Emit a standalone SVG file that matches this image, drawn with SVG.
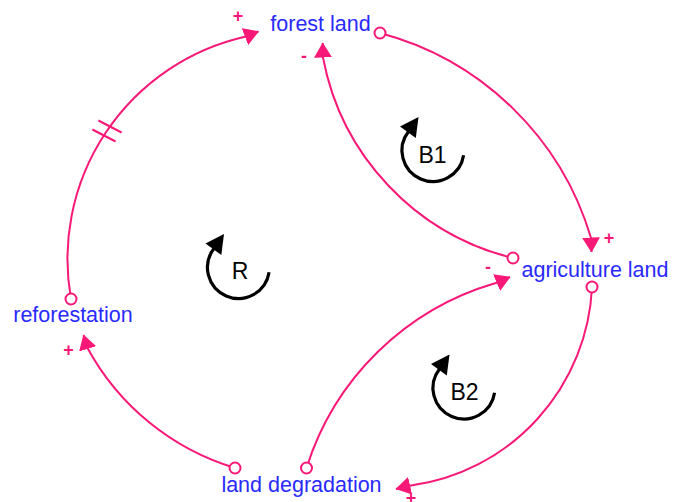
<svg xmlns="http://www.w3.org/2000/svg" width="673" height="502" viewBox="0 0 673 502">
<style>
.node{font-family:"Liberation Sans",Arial,sans-serif;font-size:21.5px;fill:#2a2aff;text-anchor:middle;}
.link{fill:none;stroke:#f81877;stroke-width:2;marker-end:url(#ah);}
.tail{fill:#fff;stroke:#f81877;stroke-width:2;}
.pol{font-family:"Liberation Sans",Arial,sans-serif;font-size:18px;font-weight:bold;fill:#f81877;text-anchor:middle;}
.delay{stroke:#f81877;stroke-width:2;}
.looplabel{font-family:"Liberation Sans",Arial,sans-serif;font-size:23px;fill:#000;text-anchor:middle;}
</style>
<defs>
<marker id="ah" markerUnits="userSpaceOnUse" viewBox="0 0 15 18" refX="14.5" refY="9" markerWidth="15" markerHeight="18" orient="auto"><path d="M0,0 L15,9 L0,18 Z" fill="#f81877"/></marker>
<g id="loopicon"><path d="M30.6,4.85 A31,31 0 1,1 -24.5,-19" fill="none" stroke="#000" stroke-width="3.2"/><polygon points="-14.5,-33.5 -33,-24 -17.2,-12.4" fill="#000"/></g>
</defs>
<rect width="673" height="502" fill="#fff"/>
<g id="connectors">
<path class="link" d="M380,33 A300,300 0 0,1 591,238 L591.5,252"/>
<path class="link" d="M513,258 A255,255 0 0,1 323,57.5 L322.7,43"/>
<path class="link" d="M592,287 A210,210 0 0,1 411,485.5 L396,489"/>
<path class="link" d="M306.5,468 A280,280 0 0,1 495,283.3 L510,277"/>
<path class="link" d="M235,468 A250,250 0 0,1 87.5,348 L83.5,335"/>
<path class="link" d="M71,299 A228,228 0 0,1 245,36.7 L258.5,31.5"/>
<line class="delay" x1="98.4" y1="120.5" x2="121.6" y2="132.5"/>
<line class="delay" x1="92.4" y1="129.5" x2="115.6" y2="141.5"/>
<circle class="tail" cx="380" cy="33" r="5.5"/>
<circle class="tail" cx="513" cy="258" r="5.5"/>
<circle class="tail" cx="592" cy="287" r="5.5"/>
<circle class="tail" cx="306.5" cy="468" r="5.5"/>
<circle class="tail" cx="235" cy="468" r="5.5"/>
<circle class="tail" cx="71" cy="299" r="5.5"/>
<text class="pol" x="238" y="22">+</text>
<text class="pol" x="304" y="62">-</text>
<text class="pol" x="609" y="244">+</text>
<text class="pol" x="488" y="273">-</text>
<text class="pol" x="68.5" y="356">+</text>
<text class="pol" x="411" y="504">+</text>
</g>
<g id="forest_land"><text class="node" x="320.5" y="31">forest land</text></g>
<g id="agriculture_land"><text class="node" x="595" y="277">agriculture land</text></g>
<g id="reforestation"><text class="node" x="73" y="322">reforestation</text></g>
<g id="land_degradation"><text class="node" x="301.5" y="492">land degradation</text></g>
<g id="loop_R"><use href="#loopicon" transform="translate(238.5,267.5)"/><text class="looplabel" x="240" y="279">R</text></g>
<g id="loop_B1"><use href="#loopicon" transform="translate(433,150.5)"/><text class="looplabel" x="432.5" y="163">B1</text></g>
<g id="loop_B2"><use href="#loopicon" transform="translate(464,388)"/><text class="looplabel" x="464.5" y="400">B2</text></g>
</svg>
